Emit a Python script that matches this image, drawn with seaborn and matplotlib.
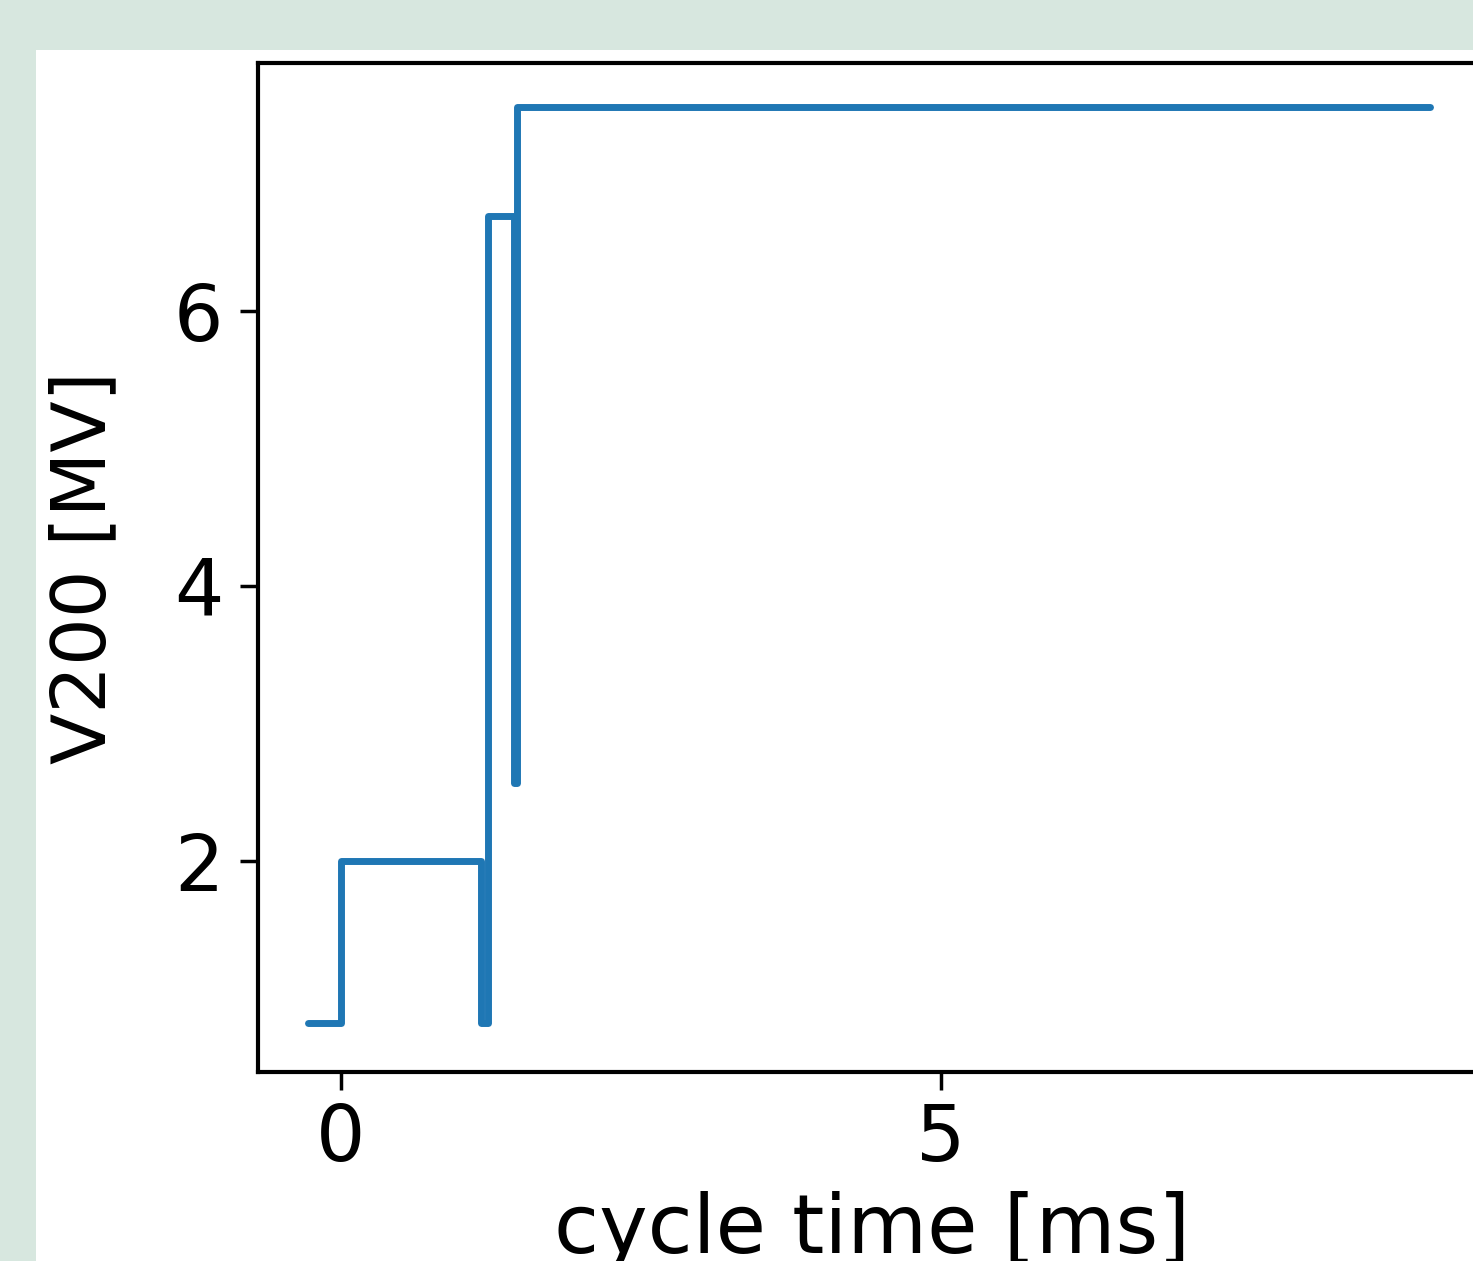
import numpy as np
import pandas as pd
import matplotlib
matplotlib.use("Agg")
import matplotlib.pyplot as plt
import seaborn as sbrn
from matplotlib.patches import Rectangle

sbrn.set_style("ticks")
plt.rcParams['font.family'] = ['DejaVu Sans']
plt.rcParams['text.color'] = 'black'
plt.rcParams['axes.labelcolor'] = 'black'
plt.rcParams['xtick.color'] = 'black'
plt.rcParams['ytick.color'] = 'black'

_fontsize = 56

# step changes of V200 over the cycle (steps-post)
cycle_time = [-0.27, 0.0, 1.17, 1.23, 1.44, 1.47, 9.07]
v200 = [0.82, 2.0, 0.82, 6.69, 2.57, 7.48, 7.48]

dataSet = pd.DataFrame({"cycle time [ms]": cycle_time, "V200 [MV]": v200})

fig = plt.figure(figsize=(14.73, 12.61), dpi=100)
fig.patch.set_facecolor("#d7e7df")
fig.patches.append(Rectangle((36 / 1473, 0), 1.0, 1 - 50 / 1261, transform=fig.transFigure,
                             facecolor="white", edgecolor="none", zorder=-10))

ax = fig.add_axes([258 / 1473, 1 - 1072 / 1261, (1486 - 258) / 1473, (1072 - 63) / 1261])
ax.set_zorder(5)
ax.set_facecolor("white")

sbrn.lineplot(data=dataSet, x="cycle time [ms]", y="V200 [MV]", ax=ax,
              color="#1f77b4", linewidth=5, drawstyle="steps-post",
              estimator=None, sort=False)

ax.set_xlim(-0.69, 9.54)
ax.set_ylim(0.466, 7.80)
ax.set_xticks([0, 5])
ax.set_yticks([2, 4, 6])
ax.tick_params(axis="both", labelsize=_fontsize, length=13, width=2.5, pad=12, color="black")
ax.tick_params(axis="x", pad=8)
ax.set_xlabel("cycle time [ms]", fontsize=59, labelpad=10)
ax.set_ylabel("V200 [MV]", fontsize=54, labelpad=38)
for sp in ax.spines.values():
    sp.set_linewidth(3)
    sp.set_color("black")

plt.savefig("out.png", dpi=100, facecolor=fig.get_facecolor())
